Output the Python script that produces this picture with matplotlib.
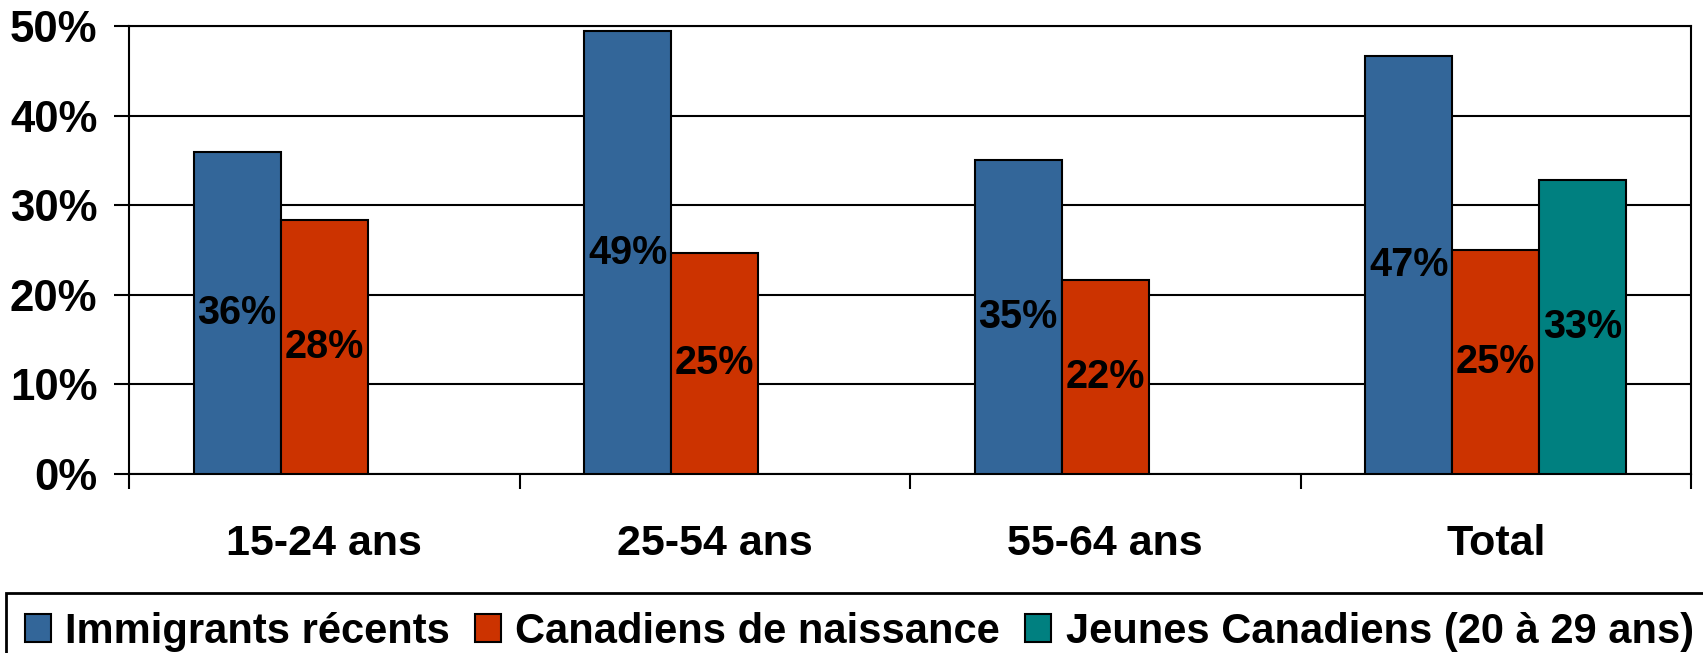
import matplotlib
import numpy as np

matplotlib.use("Agg")
import matplotlib.pyplot as plt  # noqa: E402
from matplotlib.ticker import FixedLocator, NullFormatter  # noqa: E402

plt.rcParams["font.family"] = ["Liberation Sans", "DejaVu Sans"]
plt.rcParams["font.weight"] = "bold"

categories = ["15-24 ans", "25-54 ans", "55-64 ans", "Total"]
series = ["Immigrants récents", "Canadiens de naissance", "Jeunes Canadiens (20 à 29 ans)"]
immigrants = [35.9, 49.4, 35.1, 46.7]
canadiens = [28.4, 24.7, 21.7, 25.0]
jeunes = [np.nan, np.nan, np.nan, 32.8]
labels_imm = ["36%", "49%", "35%", "47%"]
labels_can = ["28%", "25%", "22%", "25%"]
labels_jeu = ["", "", "", "33%"]
colors = ["#336699", "#CC3300", "#008080"]
yticks = [0, 10, 20, 30, 40, 50]

W, H = 1703, 653
fig = plt.figure(figsize=(W / 100, H / 100), dpi=100)
ax = fig.add_axes([129 / W, 1 - 474 / H, (1691 - 129) / W, (474 - 26) / H])

x = np.arange(len(categories))
w = 0.223
data = [immigrants, canadiens, jeunes]
labs = [labels_imm, labels_can, labels_jeu]
for k, (vals, lab, col, name) in enumerate(zip(data, labs, colors, series)):
    pos = x + (k - 1) * w
    ax.bar(pos, vals, width=w, color=col, edgecolor="black", linewidth=1.5,
           label=name, zorder=3)
    for xi, v, t in zip(pos, vals, lab):
        if t:
            ax.text(xi, v / 2, t, ha="center", va="center", fontsize=28.5,
                    fontweight="bold", color="black", zorder=4)

ax.set_xlim(-0.5, len(categories) - 0.5)
ax.set_ylim(0, 50)
ax.set_yticks(yticks)
ax.set_yticklabels([f"{t}%" for t in yticks], fontsize=31.5, fontweight="bold")
ax.yaxis.grid(True, color="black", linewidth=1.5, zorder=0)
ax.set_axisbelow(True)
ax.tick_params(axis="y", length=10.8, width=1.5, pad=12)

ax.set_xticks(x)
ax.set_xticklabels(categories, fontsize=31, fontweight="bold")
ax.tick_params(axis="x", which="major", length=0, pad=36)
ax.xaxis.set_minor_locator(FixedLocator(np.arange(-0.5, len(categories), 1.0)))
ax.xaxis.set_minor_formatter(NullFormatter())
ax.tick_params(axis="x", which="minor", length=10.8, width=1.5)

for s in ax.spines.values():
    s.set_linewidth(1.5)
    s.set_color("black")

leg = fig.legend(loc="upper left", bbox_to_anchor=(6 / W, 1 - 593 / H), ncol=3,
                 fontsize=30, frameon=True, fancybox=False, edgecolor="black",
                 handlelength=0.62, handleheight=0.68, handletextpad=0.35,
                 columnspacing=0.6, borderpad=0.45, borderaxespad=0)
leg.get_frame().set_linewidth(2)
leg.get_frame().set_alpha(1)
for t in leg.get_texts():
    t.set_fontweight("bold")

fig.savefig("out.png", dpi=100)
